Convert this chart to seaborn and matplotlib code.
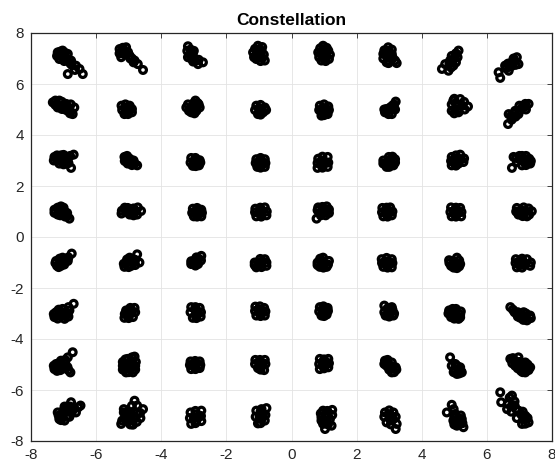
import numpy as np
import pandas as pd
import matplotlib
matplotlib.use("Agg")
import matplotlib.pyplot as plt
import seaborn as sns

# ---- data (received symbols, grouped by row) ----
row_p7_x = [-7.18, -7.03, -6.97, -7.13, -6.77, -6.62, -6.87, -6.41, -6.51, -6.87,
            -5.28, -5.08, -5.23, -4.97, -4.82, -4.72, -4.56, -5.13,
            -3.18, -3.08, -3.18, -2.97, -2.87, -2.72, -3.03,
            -1.03, -1.18, -0.92, -1.08, -0.82, -1.00,
            0.97, 0.82, 1.13, 0.92, 1.15, 1.00,
            2.97, 2.82, 3.08, 2.92, 3.23, 3.08,
            4.62, 4.72, 4.87, 5.03, 5.13, 4.97, 4.82,
            6.36, 6.41, 6.56, 6.77, 6.92, 6.97, 6.67]
row_p7_y = [7.24, 7.31, 7.05, 6.98, 6.92, 6.72, 6.39, 6.39, 6.59, 7.18,
            7.37, 7.44, 7.05, 7.11, 6.92, 6.78, 6.55, 7.24,
            7.48, 7.24, 7.05, 6.98, 6.78, 6.85, 7.18,
            7.50, 7.24, 7.31, 6.98, 6.92, 7.11,
            7.50, 7.24, 7.31, 6.92, 6.98, 7.18,
            7.44, 7.18, 7.18, 6.85, 6.82, 6.98,
            6.59, 6.78, 6.92, 7.11, 7.31, 6.72, 6.52,
            6.46, 6.24, 6.72, 6.85, 7.05, 6.78, 6.52]
row_p7_x_in = [-7.05, -6.90, -6.75, -6.65, -7.10,
               -5.15, -5.10, -4.95, -4.85, -5.20,
               -3.10, -3.10, -2.95, -3.08,
               -1.05, -0.95, -1.10, -0.90,
               1.00, 0.95, 1.05, 0.90,
               2.95, 2.95, 3.10, 3.00,
               4.85, 4.95, 5.05, 4.90,
               6.60, 6.75, 6.85,
               -7.10, -7.20, -6.95, -6.98, -6.80,
               -5.18, -5.28, -5.02, -4.90,
               -3.20, -3.00, -2.85, -3.02,
               -1.12, -0.90, -1.15, -0.85, -0.95,
               0.88, 1.08, 0.85, 1.18, 1.05,
               2.85, 3.08, 2.82, 3.18, 2.98,
               5.10, 4.92, 5.05,
               6.65, 6.82, 6.88]
row_p7_y_in = [7.15, 6.95, 6.75, 6.55, 7.10,
               7.30, 7.15, 7.00, 6.85, 7.20,
               7.35, 7.12, 6.90, 7.00,
               7.35, 7.15, 7.10, 7.02,
               7.35, 7.10, 7.05, 7.20,
               7.30, 7.05, 7.05, 6.90,
               6.80, 6.95, 7.20, 6.65,
               6.62, 6.70, 6.90,
               7.27, 7.10, 7.22, 6.90, 6.82,
               7.42, 7.20, 7.25, 7.00,
               7.30, 7.30, 6.95, 6.88,
               7.38, 7.45, 7.05, 7.15, 6.90,
               7.40, 7.42, 7.05, 7.15, 6.90,
               7.32, 7.35, 7.00, 6.92, 6.82,
               7.05, 7.10, 6.85,
               6.80, 7.00, 6.75]

row_p5_x = [-7.33, -7.13, -7.18, -6.92, -6.87, -6.67, -6.72,
            -5.22, -4.97, -5.13, -4.90, -5.05,
            -3.23, -2.95, -2.92, -3.08, -2.82,
            -1.08, -0.82, -1.03, -0.87, -0.94,
            0.87, 1.13, 0.92, 1.11, 0.99,
            2.87, 3.03, 3.20, 3.08, 2.92,
            4.97, 5.18, 4.92, 5.13, 5.42, 5.08,
            6.65, 6.67, 6.87, 7.08, 7.28, 6.97, 6.77]
row_p5_y = [5.28, 5.35, 5.08, 5.22, 4.95, 5.08, 4.82,
            5.15, 5.15, 4.82, 4.89, 4.99,
            5.08, 5.35, 4.95, 4.89, 5.08,
            5.15, 5.08, 4.82, 4.89, 4.99,
            5.15, 5.12, 4.76, 4.82, 4.95,
            4.89, 5.08, 5.31, 4.82, 5.02,
            5.35, 5.41, 4.95, 4.89, 5.12, 5.15,
            4.43, 4.82, 4.95, 5.08, 5.22, 4.82, 4.69]
row_p5_x_in = [-7.20, -7.00, -6.95, -6.80, -7.10,
               -5.10, -4.98, -5.05,
               -3.10, -2.98, -2.95, -3.00,
               -0.98, -0.92, -1.00,
               1.00, 1.02, 0.93,
               2.95, 3.10, 3.00, 3.12,
               5.05, 5.02, 5.25, 5.12,
               6.75, 6.85, 7.00, 7.15, 6.76,
               -7.25, -7.25, -7.05, -6.78, -6.80, -7.05,
               -5.10, -5.20, -4.90, -5.02,
               -3.15, -3.18, -2.85, -2.98, -2.88,
               -0.95, -1.12, -0.78, -0.95,
               1.00, 0.85, 1.15, 1.00,
               2.85, 3.15, 2.98, 3.18,
               4.92, 5.00, 5.30, 5.32, 5.00,
               7.18, 7.00, 7.20, 6.88]
row_p5_y_in = [5.20, 5.15, 5.00, 4.95, 5.10,
               5.05, 5.02, 4.88,
               5.05, 5.15, 5.02, 5.25,
               5.05, 4.95, 4.90,
               5.05, 4.85, 4.95,
               4.95, 5.15, 5.00, 5.05,
               5.25, 5.02, 5.15, 5.00,
               4.75, 4.85, 4.95, 5.10, 4.60,
               5.18, 5.35, 5.30, 5.20, 4.85, 5.02,
               5.20, 4.98, 5.02, 4.82,
               4.95, 5.20, 5.20, 4.85, 5.25,
               5.18, 4.98, 4.98, 4.80,
               5.20, 4.98, 4.98, 4.78,
               5.00, 5.20, 4.82, 5.00,
               5.20, 5.42, 5.30, 5.00, 4.85,
               5.22, 5.15, 5.00, 4.72]

row_p3_x = [-7.28, -7.08, -7.13, -6.87, -6.69, -6.77, -6.92,
            -5.13, -4.97, -4.82, -5.03, -4.74,
            -3.08, -2.82, -3.03, -2.84, -2.94,
            -1.08, -0.82, -1.05, -0.82, -0.94,
            0.82, 1.11, 0.80, 1.11, 0.97,
            2.82, 2.99, 3.18, 2.92, 3.13,
            4.92, 5.18, 5.28, 4.92, 5.13,
            6.82, 6.77, 7.08, 7.30, 7.08, 6.92, 7.33]
row_p3_y = [3.14, 3.20, 2.88, 3.07, 3.23, 2.71, 2.88,
            3.14, 3.07, 2.88, 2.88, 2.81,
            3.10, 3.01, 2.79, 2.81, 2.94,
            3.05, 3.05, 2.75, 2.75, 2.90,
            3.07, 3.14, 2.71, 2.75, 2.90,
            2.88, 3.14, 3.05, 2.75, 2.81,
            3.14, 3.23, 2.94, 2.81, 2.88,
            3.14, 2.71, 3.18, 3.07, 2.81, 2.94, 2.88]
row_p3_x_in = [-7.15, -7.00, -6.95, -6.85, -7.20,
               -5.05, -4.90, -5.08,
               -2.95, -2.90, -3.00,
               -0.95, -0.93, -1.00,
               0.95, 0.95, 1.05,
               2.95, 3.05, 3.05, 2.90,
               5.05, 5.10, 5.00, 5.20,
               7.00, 7.15, 7.20, 6.90,
               -7.30, -7.20, -7.00, -6.80, -7.00,
               -5.12, -5.05, -4.85, -4.90,
               -2.95, -3.10, -2.80, -2.94,
               -0.95, -1.10, -0.80, -0.95,
               0.95, 0.80, 1.13, 0.95,
               2.82, 3.10, 3.18, 3.00,
               4.90, 5.05, 5.30, 5.05,
               7.20, 7.35, 7.20, 7.00]
row_p3_y_in = [3.08, 3.00, 3.10, 2.90, 3.00,
               3.00, 2.95, 3.08,
               3.02, 2.88, 2.90,
               3.00, 2.82, 2.90,
               3.00, 2.80, 2.92,
               2.95, 2.90, 3.05, 2.85,
               3.05, 2.95, 2.90, 3.05,
               3.05, 3.00, 2.92, 3.10,
               3.00, 3.20, 2.85, 3.18, 3.22,
               2.98, 3.18, 3.00, 2.82,
               3.10, 2.92, 2.92, 2.78,
               3.10, 2.90, 2.90, 2.72,
               3.15, 2.90, 2.92, 2.72,
               3.00, 3.15, 2.92, 2.75,
               2.98, 3.20, 3.08, 2.80,
               3.18, 2.98, 2.82, 3.18]

row_p1_x = [-7.28, -7.08, -6.97, -7.18, -6.82, -6.89,
            -5.21, -5.03, -4.87, -4.72, -4.74, -4.97,
            -3.03, -2.77, -3.00, -2.77, -2.89,
            -1.11, -0.82, -1.08, -0.77, -0.94,
            0.82, 1.08, 0.97, 1.15, 0.77, 0.87,
            2.79, 3.03, 3.08, 2.82, 2.92,
            4.90, 5.18, 4.92, 5.21, 5.05,
            6.92, 7.13, 7.38, 6.97, 7.23]
row_p1_y = [1.07, 1.20, 1.01, 0.88, 0.72, 0.94,
            1.03, 1.14, 0.94, 1.16, 0.88, 0.88,
            1.11, 1.07, 0.81, 0.81, 0.98,
            1.11, 1.16, 0.81, 0.85, 0.97,
            1.16, 1.20, 0.94, 0.94, 0.72, 0.94,
            1.14, 1.16, 0.85, 0.81, 0.98,
            1.16, 1.14, 0.81, 0.81, 0.98,
            1.14, 1.16, 1.01, 0.88, 0.81]
row_p1_x_in = [-7.10, -6.95, -7.05, -6.88,
               -5.10, -4.95, -4.82, -5.00,
               -2.90, -2.92, -2.85,
               -0.95, -0.92, -1.00,
               0.95, 1.00, 0.90, 1.05,
               2.95, 2.95, 3.00,
               5.05, 5.05, 5.00,
               7.05, 7.20, 7.05, 7.10,
               -7.28, -7.18, -7.00, -6.95, -7.10,
               -5.22, -5.12, -4.85, -4.85, -4.62,
               -2.90, -3.05, -2.75, -2.90,
               -0.96, -1.12, -0.76, -0.93,
               0.95, 0.80, 1.15, 1.05,
               2.92, 2.78, 3.10, 2.95,
               5.05, 4.88, 5.22, 5.05,
               7.00, 7.28, 7.30, 7.10, 6.90]
row_p1_y_in = [1.05, 0.90, 0.95, 0.82,
               1.05, 1.00, 1.02, 0.95,
               1.05, 0.90, 0.95,
               1.05, 0.90, 0.95,
               1.05, 1.10, 0.85, 1.00,
               1.05, 0.90, 1.00,
               1.05, 0.88, 1.00,
               1.05, 1.00, 0.90, 0.95,
               0.95, 1.15, 1.15, 0.80, 0.85,
               0.92, 1.15, 1.12, 0.85, 1.02,
               1.14, 0.95, 0.95, 0.80,
               1.15, 0.97, 1.00, 0.80,
               1.18, 1.05, 1.08, 0.85,
               1.15, 0.97, 1.00, 0.80,
               1.15, 0.98, 0.98, 0.80,
               1.00, 1.12, 0.88, 0.82, 1.00]

row_m1_x = [-7.23, -7.03, -6.75, -7.08, -6.87, -7.20,
            -5.08, -4.97, -4.74, -4.92, -5.13, -4.67,
            -3.03, -2.77, -2.87, -3.08, -2.89,
            -1.13, -0.82, -1.08, -0.77, -0.94,
            0.80, 0.97, 1.15, 0.87, 1.08,
            2.77, 3.08, 2.82, 3.08, 2.95,
            4.84, 5.08, 5.18, 4.90, 5.08,
            6.89, 6.92, 7.23, 7.33, 7.08]
row_m1_y = [-0.94, -0.81, -0.65, -1.13, -0.94, -1.13,
            -1.00, -0.81, -0.68, -1.13, -1.17, -1.00,
            -0.96, -0.74, -1.06, -1.06, -0.87,
            -1.00, -0.87, -1.19, -1.13, -1.00,
            -1.00, -0.81, -0.94, -1.17, -1.17,
            -0.87, -0.87, -1.17, -1.19, -1.00,
            -0.91, -0.81, -1.06, -1.13, -1.22,
            -0.87, -1.19, -0.87, -1.13, -1.06]
row_m1_x_in = [-7.10, -6.95, -6.85, -7.05,
               -5.00, -4.85, -5.00, -4.85,
               -2.95, -2.95, -2.85,
               -0.95, -0.90, -1.00,
               0.95, 1.00, 0.92,
               2.95, 2.95, 3.00,
               4.98, 5.02, 5.00,
               7.00, 7.10, 7.15, 7.00,
               -7.25, -7.12, -7.15, -6.98,
               -5.15, -5.05, -4.80, -4.80, -5.00,
               -3.08, -2.92, -2.78, -2.95,
               -0.96, -1.13, -0.77, -0.92,
               0.88, 0.80, 1.12, 0.98,
               2.92, 2.78, 3.10, 2.95,
               4.85, 5.15, 5.15, 4.98,
               7.08, 6.88, 7.35, 7.08]
row_m1_y_in = [-0.95, -0.90, -0.80, -1.05,
               -0.95, -0.88, -1.08, -1.00,
               -0.92, -1.00, -0.85,
               -1.05, -0.95, -1.12,
               -0.95, -1.05, -1.10,
               -0.95, -1.10, -1.02,
               -0.95, -1.05, -1.10,
               -0.95, -0.95, -1.10, -1.10,
               -1.02, -0.85, -1.18, -1.08,
               -1.05, -0.88, -0.90, -1.10, -1.18,
               -0.95, -0.80, -0.92, -1.12,
               -0.86, -1.10, -1.00, -1.18,
               -0.85, -1.10, -1.08, -1.20,
               -0.82, -1.02, -1.02, -1.20,
               -1.02, -0.92, -1.15, -1.20,
               -0.85, -1.02, -1.00, -1.20]

row_m3_x = [-7.23, -7.03, -6.69, -6.82, -6.97, -7.28, -7.08,
            -5.08, -4.82, -5.13, -4.87, -4.97,
            -3.08, -2.82, -3.03, -2.79, -2.92,
            -1.11, -0.84, -1.08, -0.82, -0.94,
            0.87, 1.11, 0.92, 1.08, 0.97,
            2.85, 3.03, 3.13, 2.89, 3.08,
            4.84, 5.05, 5.18, 4.90, 5.13,
            6.72, 6.92, 7.13, 7.33, 7.23, 7.03, 6.85]
row_m3_y = [-2.95, -2.82, -2.62, -2.88, -3.21, -3.14, -3.08,
            -2.88, -2.78, -3.17, -3.14, -3.01,
            -2.75, -2.78, -3.17, -3.12, -2.95,
            -2.73, -2.78, -3.08, -3.08, -2.91,
            -2.75, -2.78, -3.08, -3.04, -2.91,
            -2.69, -2.88, -3.08, -3.08, -2.75,
            -2.88, -2.82, -3.04, -3.14, -3.21,
            -2.75, -3.01, -2.95, -3.08, -3.27, -3.17, -2.95]
row_m3_x_in = [-7.10, -6.95, -6.85, -7.15, -6.95,
               -4.98, -5.00, -4.90,
               -2.95, -2.95, -2.88,
               -0.97, -0.95, -0.90,
               1.00, 1.00, 0.95,
               2.95, 3.00, 3.05, 2.95,
               4.95, 5.05, 5.05, 5.00,
               6.80, 7.00, 7.10, 7.20, 6.95,
               -7.15, -7.30, -7.18, -6.85, -6.88,
               -4.95, -5.12, -4.80, -5.00,
               -2.95, -3.10, -2.78, -2.92,
               -0.97, -1.12, -0.80, -0.95,
               0.98, 0.85, 1.12, 1.00,
               3.10, 3.15, 2.85, 3.00,
               4.95, 4.82, 5.20, 5.00, 5.18,
               7.20, 7.35, 7.12, 6.95]
row_m3_y_in = [-2.95, -2.95, -2.75, -3.08, -3.10,
               -2.90, -3.08, -2.95,
               -2.85, -3.05, -3.00,
               -2.85, -3.00, -2.92,
               -2.85, -3.00, -2.95,
               -2.80, -3.00, -2.95, -3.05,
               -2.95, -3.05, -3.12, -2.90,
               -2.85, -3.05, -3.10, -3.12, -2.95,
               -2.85, -3.02, -3.20, -3.12, -3.00,
               -2.78, -3.02, -2.95, -3.18,
               -2.75, -2.95, -2.95, -3.18,
               -2.72, -2.90, -2.92, -3.10,
               -2.72, -2.92, -2.90, -3.10,
               -2.85, -3.00, -2.95, -3.12,
               -2.82, -3.00, -2.92, -3.20, -3.15,
               -3.00, -3.18, -3.25, -3.12]

row_m5_x = [-7.23, -7.08, -6.87, -6.72, -6.97, -7.28, -6.79, -7.10,
            -5.18, -5.03, -4.82, -4.80, -5.08, -4.87, -4.97,
            -3.10, -2.82, -3.08, -2.82, -2.95,
            -1.11, -0.82, -1.03, -0.84, -0.94,
            0.87, 1.13, 0.87, 1.13, 1.00,
            2.87, 3.08, 3.20, 3.08, 2.92,
            4.87, 5.03, 5.18, 5.23, 5.08, 4.92,
            6.72, 6.97, 7.18, 7.33, 7.18, 6.87, 7.03]
row_m5_y = [-4.98, -4.85, -4.72, -4.52, -5.08, -5.18, -5.31, -5.22,
            -5.05, -4.78, -4.69, -5.05, -5.31, -5.31, -5.05,
            -4.88, -4.88, -5.18, -5.14, -5.01,
            -4.82, -4.82, -5.14, -5.22, -4.98,
            -4.78, -4.78, -5.18, -5.11, -4.95,
            -4.85, -4.92, -5.11, -5.31, -5.05,
            -4.72, -4.98, -5.11, -5.31, -5.37, -5.05,
            -4.78, -4.72, -4.92, -5.11, -5.31, -5.05, -5.11]
row_m5_x_in = [-7.10, -6.95, -7.00, -6.88, -7.15,
               -5.05, -4.92, -4.95, -5.10, -4.88,
               -2.95, -2.95, -3.02,
               -0.97, -0.95, -0.90,
               1.00, 1.00, 0.95,
               2.95, 3.05, 3.10, 3.00,
               5.08, 5.12, 5.00,
               6.85, 7.00, 7.10, 7.20, 7.05,
               -7.30, -7.15, -6.95, -6.85, -7.20,
               -5.18, -5.10, -4.90, -4.78, -4.80, -5.00, -5.18,
               -2.96, -3.12, -2.80, -2.95,
               -0.97, -1.12, -0.80, -0.95,
               1.00, 0.85, 1.15, 1.00,
               2.95, 2.85, 3.22, 3.15, 3.00,
               5.20, 5.15, 4.98,
               6.80, 6.78, 7.25, 7.28, 7.10, 6.95]
row_m5_y_in = [-5.00, -4.90, -5.15, -5.10, -5.10,
               -4.95, -4.85, -5.18, -5.18, -5.00,
               -4.95, -5.10, -5.02,
               -4.90, -5.08, -5.00,
               -4.85, -5.08, -5.00,
               -4.95, -5.05, -5.15, -5.20,
               -5.05, -5.20, -5.20,
               -4.85, -4.90, -5.00, -5.15, -5.25,
               -5.05, -4.95, -4.82, -5.22, -5.25,
               -4.90, -4.80, -4.72, -4.90, -5.20, -5.30, -5.20,
               -4.86, -5.02, -5.02, -5.18,
               -4.82, -4.98, -4.98, -5.20,
               -4.80, -4.98, -4.95, -5.15,
               -4.82, -4.98, -5.20, -5.30, -5.12,
               -5.25, -5.35, -5.30,
               -4.75, -4.95, -5.00, -5.22, -5.30, -5.15]

row_m7_x = [-7.13, -7.18, -6.97, -6.77, -6.48, -6.62, -6.87, -6.97,
            -5.15, -4.82, -4.56, -4.64, -5.08, -5.23, -4.92, -4.87, -4.74,
            -3.10, -2.77, -3.08, -2.77, -2.92,
            -1.08, -0.77, -1.03, -0.82, -0.92,
            0.97, 1.25, 0.92, 1.18, 1.03, 0.97, 1.23,
            2.87, 3.13, 2.92, 3.23, 3.20, 3.06,
            4.92, 4.77, 5.03, 5.23, 5.08, 5.28, 4.97,
            6.41, 6.44, 6.77, 6.77, 6.97, 7.18, 7.28, 7.08, 6.62]
row_m7_y = [-7.14, -6.88, -6.65, -6.48, -6.61, -6.88, -7.01, -7.20,
            -6.75, -6.42, -6.75, -7.10, -7.20, -7.33, -6.97, -7.36, -6.61,
            -6.88, -6.81, -7.33, -7.22, -7.07,
            -6.81, -6.71, -7.31, -7.20, -7.01,
            -6.81, -6.78, -7.07, -7.14, -7.53, -7.33, -7.40,
            -6.88, -6.88, -7.27, -7.33, -7.53, -7.10,
            -6.58, -6.88, -6.94, -7.14, -7.40, -7.46, -7.20,
            -6.09, -6.48, -6.22, -6.61, -6.81, -7.01, -7.27, -7.33, -6.75]
row_m7_x_in = [-7.05, -6.90, -6.80, -6.70, -7.00, -7.05,
               -5.00, -4.85, -4.75, -5.05, -4.95, -5.10, -4.80,
               -2.95, -2.92, -3.00, -2.85,
               -0.95, -0.92, -0.98, -0.88,
               1.05, 1.10, 1.08, 1.00,
               3.00, 3.05, 3.12, 3.00,
               5.00, 5.12, 5.15, 5.05, 4.98,
               6.65, 6.85, 6.90, 7.05, 7.12, 6.70,
               -7.15, -7.08, -6.88, -6.55, -6.75, -6.82,
               -5.20, -5.15, -4.90, -4.65, -4.95, -4.75,
               -2.95, -3.12, -2.78, -2.95,
               -0.92, -1.10, -0.80, -0.95,
               1.10, 0.90, 1.25, 0.92, 1.12,
               3.00, 2.85, 3.20, 3.05,
               5.20, 5.25, 5.00,
               6.85, 7.10, 7.25, 7.18, 6.92, 6.75]
row_m7_y_in = [-7.00, -6.85, -6.65, -6.75, -6.80, -7.10,
               -7.05, -6.85, -6.90, -6.90, -7.20, -7.10, -7.10,
               -6.95, -7.20, -7.10, -7.05,
               -6.85, -7.15, -7.05, -6.95,
               -6.95, -7.05, -7.25, -7.20,
               -7.00, -7.20, -7.15, -6.95,
               -7.05, -7.10, -7.30, -7.25, -6.75,
               -6.55, -6.60, -6.75, -6.95, -7.15, -6.30,
               -7.00, -7.18, -6.65, -6.68, -6.90, -7.05,
               -7.20, -6.88, -6.62, -6.90, -7.35, -7.25,
               -6.82, -7.10, -7.02, -7.30,
               -6.75, -7.05, -6.98, -7.30,
               -6.82, -6.92, -6.98, -7.20, -7.35,
               -6.80, -7.05, -7.05, -7.35,
               -7.00, -7.30, -7.35,
               -6.45, -6.85, -7.10, -7.32, -7.10, -6.85]

tick_values = [-8, -6, -4, -2, 0, 2, 4, 6, 8]
title_text = "Constellation"

# ---- build table ----
xs = (row_p7_x + row_p7_x_in + row_p5_x + row_p5_x_in + row_p3_x + row_p3_x_in
      + row_p1_x + row_p1_x_in + row_m1_x + row_m1_x_in + row_m3_x + row_m3_x_in
      + row_m5_x + row_m5_x_in + row_m7_x + row_m7_x_in)
ys = (row_p7_y + row_p7_y_in + row_p5_y + row_p5_y_in + row_p3_y + row_p3_y_in
      + row_p1_y + row_p1_y_in + row_m1_y + row_m1_y_in + row_m3_y + row_m3_y_in
      + row_m5_y + row_m5_y_in + row_m7_y + row_m7_y_in)
df = pd.DataFrame({"I": xs, "Q": ys})

sns.set_style("white")
plt.rcParams['font.family'] = ['Liberation Sans', 'DejaVu Sans']

fig = plt.figure(figsize=(5.55, 4.66), dpi=100)
ax = fig.add_axes([31 / 555, 25 / 466, 521 / 555, 408 / 466])

sns.scatterplot(data=df, x="I", y="Q", ax=ax, s=24, marker="o",
                facecolor="none", edgecolor="black", linewidth=2.3,
                legend=False, zorder=3)

ax.set_xlim(-8, 8)
ax.set_ylim(-8, 8)
ax.set_xticks(tick_values)
ax.set_yticks(tick_values)
ax.set_xticklabels([str(t) for t in tick_values])
ax.set_yticklabels([str(t) for t in tick_values])
ax.set_xlabel("")
ax.set_ylabel("")
ax.grid(True, color="#e3e3e3", linewidth=0.6)
ax.set_axisbelow(True)
ax.tick_params(direction="in", length=3.6, width=0.6, top=True, right=True,
               labelsize=11, colors="#262626", pad=5)
for sp in ax.spines.values():
    sp.set_visible(True)
    sp.set_linewidth(0.9)
    sp.set_color("#262626")

ax.set_title(title_text, fontsize=12.5, fontweight="bold", pad=6, color="black")

fig.savefig("out.png", dpi=100)
